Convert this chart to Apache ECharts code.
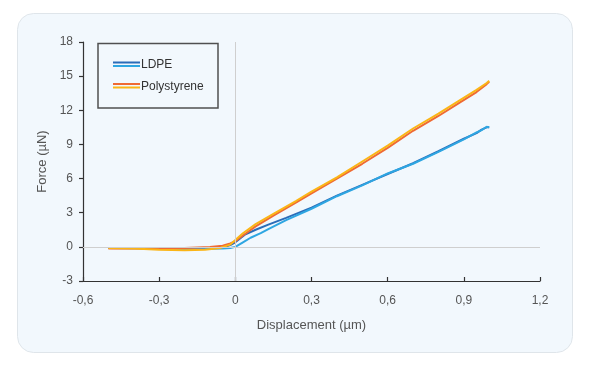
<!DOCTYPE html>
<html>
<head>
<meta charset="utf-8">
<script src="https://cdn.jsdelivr.net/npm/echarts@6/dist/echarts.min.js"></script>
<style>
html,body{margin:0;padding:0;background:#fff;}
#c{width:592px;height:378px;}
</style>
</head>
<body>
<div id="c"></div>
<script>
// Displacement (µm) vs Force (µN)
const seriesNames = ['LDPE', 'Polystyrene'];
const xTicks = [-0.6, -0.3, 0, 0.3, 0.6, 0.9, 1.2];
const yTicks = [-3, 0, 3, 6, 9, 12, 15, 18];

const ldpeA = [[-0.5,-0.1],[-0.4,-0.1],[-0.3,-0.12],[-0.2,-0.15],[-0.1,-0.12],[-0.05,-0.05],[-0.02,0.15],[0,0.4],[0.02,0.75],[0.04,1.1],[0.08,1.5],[0.13,1.95],[0.2,2.55],[0.3,3.45],[0.4,4.5],[0.5,5.45],[0.6,6.4],[0.7,7.35],[0.8,8.4],[0.9,9.5],[0.95,10.0],[0.97,10.3],[0.99,10.5],[1.0,10.5]];
const ldpeB = [[-0.5,-0.1],[-0.4,-0.12],[-0.3,-0.15],[-0.2,-0.18],[-0.1,-0.17],[-0.05,-0.15],[-0.02,-0.1],[0,0.0],[0.03,0.4],[0.06,0.8],[0.1,1.2],[0.13,1.55],[0.2,2.35],[0.3,3.35],[0.4,4.45],[0.5,5.4],[0.6,6.45],[0.7,7.3],[0.8,8.35],[0.9,9.45],[0.95,10.05],[0.97,10.25],[0.99,10.55],[1.0,10.5]];
const psA = [[-0.5,-0.15],[-0.4,-0.15],[-0.3,-0.15],[-0.2,-0.1],[-0.1,-0.02],[-0.05,0.1],[-0.02,0.3],[0,0.5],[0.03,1.0],[0.08,1.8],[0.15,2.75],[0.24,3.9],[0.3,4.7],[0.4,6.0],[0.5,7.3],[0.6,8.7],[0.7,10.2],[0.8,11.5],[0.885,12.7],[0.95,13.6],[0.99,14.3],[1.0,14.5]];
const psB = [[-0.5,-0.1],[-0.4,-0.15],[-0.3,-0.25],[-0.2,-0.3],[-0.12,-0.25],[-0.06,-0.1],[-0.02,0.2],[0,0.6],[0.03,1.2],[0.08,2.0],[0.15,2.9],[0.24,4.05],[0.3,4.85],[0.4,6.1],[0.5,7.5],[0.6,8.9],[0.7,10.4],[0.8,11.7],[0.885,12.9],[0.95,13.8],[0.99,14.4],[1.0,14.6]];

const colors = ['#2b6cb8', '#2ea6e2', '#ef6a33', '#fbb516'];
const fmt = v => String(v).replace('.', ',');

const chart = echarts.init(document.getElementById('c'));
const FONT = 'Liberation Sans';

function line(name, data, color, extra) {
  return Object.assign({
    name: name, type: 'line', data: data, showSymbol: false, symbol: 'none',
    lineStyle: { color: color, width: 2 }, itemStyle: { color: color },
    animation: false, z: 3
  }, extra || {});
}

chart.setOption({
  animation: false,
  textStyle: { fontFamily: FONT },
  graphic: [
    { type: 'rect', z: -10, shape: { x: 17.5, y: 13.5, width: 555, height: 339, r: 16 },
      style: { fill: '#f2f8fd', stroke: '#dfe5ea', lineWidth: 1 } },
    { type: 'rect', z: 10, shape: { x: 98, y: 43.5, width: 120, height: 64.5 },
      style: { fill: '#f2f8fd', stroke: '#505050', lineWidth: 1.5 } },
    { type: 'line', z: 11, shape: { x1: 113, y1: 62.5, x2: 140, y2: 62.5 }, style: { stroke: colors[0], lineWidth: 2 } },
    { type: 'line', z: 11, shape: { x1: 113, y1: 66, x2: 140, y2: 66 }, style: { stroke: colors[1], lineWidth: 2 } },
    { type: 'text', z: 11, style: { x: 141, y: 65, text: seriesNames[0], fill: '#333', font: '12px "Liberation Sans"', textVerticalAlign: 'middle', verticalAlign: 'middle' } },
    { type: 'line', z: 11, shape: { x1: 113, y1: 84, x2: 140, y2: 84 }, style: { stroke: colors[2], lineWidth: 2 } },
    { type: 'line', z: 11, shape: { x1: 113, y1: 87.5, x2: 140, y2: 87.5 }, style: { stroke: colors[3], lineWidth: 2 } },
    { type: 'text', z: 11, style: { x: 141, y: 87, text: seriesNames[1], fill: '#333', font: '12px "Liberation Sans"', textVerticalAlign: 'middle', verticalAlign: 'middle' } }
  ],
  grid: { left: 83, right: 52, top: 42, bottom: 97, containLabel: false },
  xAxis: {
    type: 'value', min: xTicks[0], max: xTicks[xTicks.length - 1], interval: 0.3,
    name: 'Displacement (µm)', nameLocation: 'middle', nameGap: 38,
    nameTextStyle: { color: '#555', fontSize: 13, fontFamily: FONT },
    axisLine: { show: true, onZero: false, lineStyle: { color: '#333', width: 1.2 } },
    axisTick: { show: true, inside: true, length: 4, lineStyle: { color: '#333', width: 1.2 } },
    axisLabel: { color: '#555', fontSize: 12, margin: 14, fontFamily: FONT, formatter: v => fmt(+v.toFixed(1)) },
    splitLine: { show: false }
  },
  yAxis: {
    type: 'value', min: yTicks[0], max: yTicks[yTicks.length - 1], interval: 3,
    name: 'Force (µN)', nameLocation: 'middle', nameGap: 27,
    nameTextStyle: { color: '#555', fontSize: 13, fontFamily: FONT },
    axisLine: { show: true, onZero: false, lineStyle: { color: '#333', width: 1.2 } },
    axisTick: { show: true, inside: false, length: 4, lineStyle: { color: '#333', width: 1.2 } },
    axisLabel: { color: '#555', fontSize: 12, margin: 10, fontFamily: FONT, formatter: v => fmt(v) },
    splitLine: { show: false }
  },
  series: [
    line(seriesNames[0], ldpeA, colors[0], {
      markLine: {
        silent: true, symbol: 'none', label: { show: false }, animation: false,
        lineStyle: { color: '#cfcfcf', type: 'solid', width: 1 },
        data: [{ xAxis: 0 }, { yAxis: 0 }]
      }
    }),
    line(seriesNames[0] + ' 2', ldpeB, colors[1]),
    line(seriesNames[1], psA, colors[2]),
    line(seriesNames[1] + ' 2', psB, colors[3])
  ]
});
</script>
</body>
</html>
